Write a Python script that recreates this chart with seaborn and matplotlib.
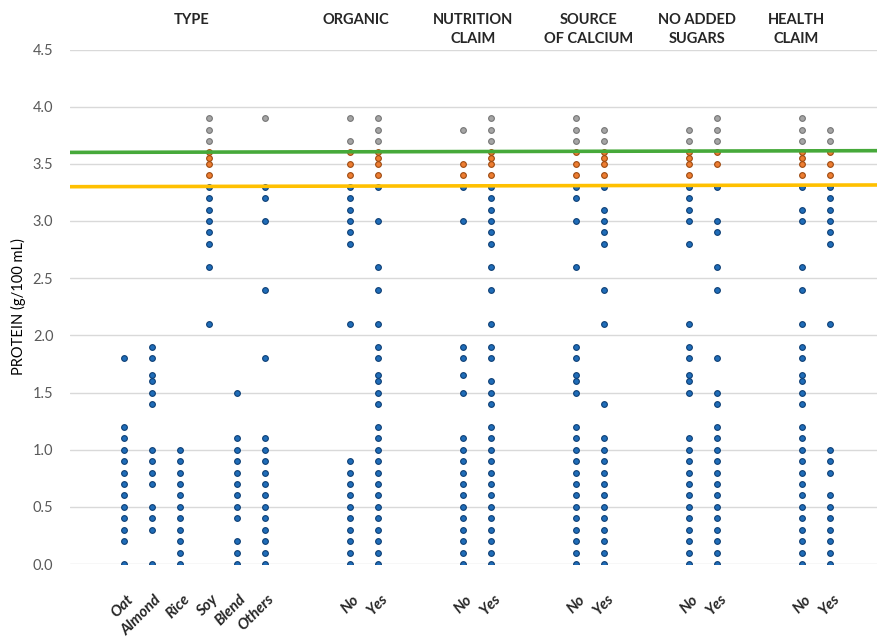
import matplotlib.pyplot as plt
import matplotlib.transforms as mtransforms
import seaborn as sns
import pandas as pd

# Protein content (g/100 mL) of each drink per category
oat = [1.8, 1.2, 1.1, 1.0, 0.9, 0.8, 0.7, 0.6, 0.5, 0.4, 0.3, 0.2, 0.0]
almond = [1.9, 1.8, 1.65, 1.6, 1.5, 1.4, 1.0, 0.9, 0.8, 0.7, 0.5, 0.4, 0.3, 0.0]
rice = [1.0, 0.9, 0.8, 0.7, 0.6, 0.5, 0.4, 0.3, 0.2, 0.1, 0.0]
soy = [3.9, 3.8, 3.7, 3.6, 3.55, 3.5, 3.4, 3.3, 3.2, 3.1, 3.0, 2.9, 2.8, 2.6, 2.1]
blend = [1.5, 1.1, 1.0, 0.9, 0.8, 0.7, 0.6, 0.5, 0.4, 0.2, 0.1, 0.0]
others = [3.9, 3.3, 3.2, 3.0, 2.4, 1.8, 1.1, 1.0, 0.9, 0.8, 0.7, 0.6, 0.5, 0.4, 0.3, 0.2, 0.1, 0.0]

organic_no = [3.9, 3.7, 3.6, 3.5, 3.4, 3.3, 3.2, 3.1, 3.0, 2.9, 2.8, 2.1,
              0.9, 0.8, 0.7, 0.6, 0.5, 0.4, 0.3, 0.2, 0.1, 0.0]
organic_yes = [3.9, 3.8, 3.7, 3.6, 3.55, 3.5, 3.4, 3.3, 3.0, 2.6, 2.4, 2.1, 1.9, 1.8, 1.65, 1.6,
               1.5, 1.4, 1.2, 1.1, 1.0, 0.9, 0.8, 0.7, 0.6, 0.5, 0.4, 0.3, 0.2, 0.1, 0.0]
nutrition_no = [3.8, 3.5, 3.4, 3.3, 3.0, 1.9, 1.8, 1.65, 1.5, 1.1, 1.0, 0.9, 0.8, 0.7,
                0.6, 0.5, 0.4, 0.3, 0.2, 0.1, 0.0]
nutrition_yes = [3.9, 3.8, 3.7, 3.6, 3.55, 3.5, 3.4, 3.3, 3.2, 3.1, 3.0, 2.9, 2.8, 2.6, 2.4, 2.1,
                 1.9, 1.8, 1.6, 1.5, 1.4, 1.2, 1.1, 1.0, 0.9, 0.8, 0.7, 0.6, 0.5, 0.4, 0.3, 0.2, 0.1, 0.0]
calcium_no = [3.9, 3.8, 3.7, 3.6, 3.5, 3.4, 3.3, 3.2, 3.0, 2.6, 1.9, 1.8, 1.65, 1.6, 1.5, 1.2,
              1.1, 1.0, 0.9, 0.8, 0.7, 0.6, 0.5, 0.4, 0.3, 0.2, 0.1, 0.0]
calcium_yes = [3.8, 3.7, 3.6, 3.55, 3.5, 3.4, 3.3, 3.1, 3.0, 2.9, 2.8, 2.4, 2.1, 1.4, 1.1,
               1.0, 0.9, 0.8, 0.7, 0.6, 0.5, 0.4, 0.3, 0.2, 0.1, 0.0]
sugars_no = [3.8, 3.7, 3.6, 3.55, 3.5, 3.4, 3.3, 3.2, 3.1, 3.0, 2.8, 2.1, 1.9, 1.8, 1.65, 1.6,
             1.5, 1.1, 1.0, 0.9, 0.8, 0.7, 0.6, 0.5, 0.4, 0.3, 0.2, 0.1, 0.0]
sugars_yes = [3.9, 3.8, 3.7, 3.6, 3.5, 3.3, 3.0, 2.9, 2.6, 2.4, 1.8, 1.5, 1.4, 1.2, 1.1,
              1.0, 0.9, 0.8, 0.7, 0.6, 0.5, 0.4, 0.3, 0.2, 0.1, 0.0]
health_no = [3.9, 3.8, 3.7, 3.6, 3.55, 3.5, 3.4, 3.3, 3.1, 3.0, 2.6, 2.4, 2.1, 1.9, 1.8, 1.65,
             1.6, 1.5, 1.4, 1.2, 1.1, 1.0, 0.9, 0.8, 0.7, 0.6, 0.5, 0.4, 0.3, 0.2, 0.1, 0.0]
health_yes = [3.8, 3.7, 3.6, 3.5, 3.4, 3.3, 3.2, 3.1, 3.0, 2.9, 2.8, 2.1,
              1.0, 0.9, 0.8, 0.6, 0.5, 0.4, 0.3, 0.2, 0.1, 0.0]

group_titles = ['TYPE', 'ORGANIC', 'NUTRITION\nCLAIM', 'SOURCE\nOF CALCIUM', 'NO ADDED\nSUGARS', 'HEALTH\nCLAIM']
group_labels = [['Oat', 'Almond', 'Rice', 'Soy', 'Blend', 'Others'],
                ['No', 'Yes'], ['No', 'Yes'], ['No', 'Yes'], ['No', 'Yes'], ['No', 'Yes']]
group_values = [[oat, almond, rice, soy, blend, others],
                [organic_no, organic_yes], [nutrition_no, nutrition_yes],
                [calcium_no, calcium_yes], [sugars_no, sugars_yes], [health_no, health_yes]]

# reference lines (value at left edge, value at right edge)
green_line = [3.60, 3.615]
yellow_line = [3.30, 3.315]

# build long table, 2 empty slots between groups
rows = []
ticks, ticklabels = [], []
pos = 0
for labels, values in zip(group_labels, group_values):
    for lab, vals in zip(labels, values):
        for v in vals:
            rows.append({'x': pos, 'protein': v})
        ticks.append(pos)
        ticklabels.append(lab)
        pos += 1
    pos += 2
df = pd.DataFrame(rows)
df['band'] = pd.cut(df['protein'], [-1, 3.35, 3.65, 5], labels=['low', 'mid', 'high'])

sns.set_style("white")
plt.rcParams['font.family'] = ['Lato', 'DejaVu Sans']

fig = plt.figure(figsize=(8.77, 6.37), dpi=100)
ax = fig.add_axes([70 / 877, 1 - 564 / 637, 807 / 877, (564 - 49.5) / 637])

styles = {'low': ('#1F6CB8', '#0E3F75'),
          'mid': ('#ED7D31', '#9C4A12'),
          'high': ('#A5A5A5', '#767676')}
for band, (face, edge) in styles.items():
    sub = df[df['band'] == band]
    sns.scatterplot(data=sub, x='x', y='protein', color=face, edgecolor=edge,
                    linewidth=0.8, s=17, ax=ax, zorder=3, legend=False)

xmin, xmax = -1.91, 26.66
ax.plot([xmin, xmax], green_line, color='#46A93A', lw=2.6, zorder=4, solid_capstyle='butt')
ax.plot([xmin, xmax], yellow_line, color='#FFC000', lw=2.6, zorder=4, solid_capstyle='butt')

ax.set_xlim(xmin, xmax)
ax.set_ylim(0, 4.5)
ax.set_yticks([i * 0.5 for i in range(10)])
ax.set_yticklabels([f'{i * 0.5:.1f}' for i in range(10)], color='#595959', fontsize=10.5)
ax.yaxis.grid(True, color='#D9D9D9', lw=1)
ax.set_axisbelow(True)
for s in ax.spines.values():
    s.set_visible(False)
ax.tick_params(axis='y', length=0, pad=12)

ax.set_xticks(ticks)
ax.set_xticklabels(ticklabels, rotation=45, ha='right', va='center', rotation_mode='anchor',
                   fontsize=11, fontweight='bold', fontstyle='italic')
ax.tick_params(axis='x', length=0, pad=24)
shift = mtransforms.ScaledTranslation(7 / 100, 0, fig.dpi_scale_trans)
for lab in ax.get_xticklabels():
    lab.set_transform(lab.get_transform() + shift)

ax.set_xlabel('')
ax.set_ylabel('PROTEIN (g/100 mL)', fontsize=10.5, color='black')
ax.yaxis.set_label_coords(-44 / 807, 0.5)

# group headers above the plot
header_x = [2.4, 8.2, 12.35, 16.45, 20.3, 23.8]
trans = mtransforms.blended_transform_factory(ax.transData, fig.transFigure)
for hx, title in zip(header_x, group_titles):
    fig.text(hx, 1 - 13 / 637, title, transform=trans, ha='center', va='top',
             fontsize=10.5, fontweight='bold', linespacing=1.45)

fig.savefig('out.png', dpi=100)
